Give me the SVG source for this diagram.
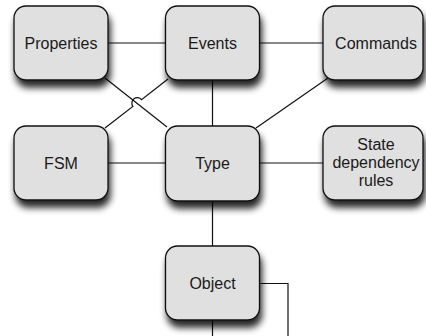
<svg xmlns="http://www.w3.org/2000/svg" width="426" height="336" viewBox="0 0 426 336">
  <defs>
    <filter id="shadow" x="-20%" y="-20%" width="150%" height="160%">
      <feGaussianBlur in="SourceAlpha" stdDeviation="3.5"/>
      <feOffset dx="2" dy="7" result="b"/>
      <feComponentTransfer><feFuncA type="linear" slope="0.85"/></feComponentTransfer>
      <feMerge><feMergeNode/><feMergeNode in="SourceGraphic"/></feMerge>
    </filter>
  </defs>
  <style>
    .box { fill: #e0e0e0; stroke: #111; stroke-width: 1.3; filter: url(#shadow); }
    .lbl { font-family: "Liberation Sans", Arial, sans-serif; font-size: 16px; fill: #1a1a1a; text-anchor: middle; }
    .conn { fill: none; stroke: #111; stroke-width: 1.2; }
  </style>
  <rect width="426" height="336" fill="#ffffff"/>

  <!-- connectors -->
  <g id="connectors" class="conn">
    <line x1="108" y1="43" x2="165" y2="43"/>
    <line x1="260" y1="43" x2="323" y2="43"/>
    <line x1="105" y1="78" x2="167" y2="127"/>
    <!-- FSM to Events, hopping over the Properties-Type line -->
    <path d="M105,128 L132.86,106.37 A5.5,5.5 0 0 1 141.54,99.63 L168,79"/>
    <line x1="212.5" y1="80" x2="212.5" y2="126"/>
    <line x1="256" y1="128" x2="328" y2="78"/>
    <line x1="108" y1="163" x2="165" y2="163"/>
    <line x1="260" y1="163" x2="323" y2="163"/>
    <line x1="212.5" y1="201" x2="212.5" y2="246"/>
    <path d="M260,283.5 L288,283.5 L288,340"/>
    <line x1="212.5" y1="320" x2="212.5" y2="340"/>
  </g>

  <g id="properties">
    <rect class="box" x="14" y="6" width="94" height="74" rx="12"/>
    <text class="lbl" x="61" y="49">Properties</text>
  </g>
  <g id="events">
    <rect class="box" x="165.5" y="6" width="94" height="74" rx="12"/>
    <text class="lbl" x="212.5" y="49">Events</text>
  </g>
  <g id="commands">
    <rect class="box" x="323" y="6" width="100" height="74" rx="12"/>
    <text class="lbl" x="376" y="49">Commands</text>
  </g>
  <g id="fsm">
    <rect class="box" x="14" y="126" width="94" height="74" rx="12"/>
    <text class="lbl" x="61" y="169">FSM</text>
  </g>
  <g id="type">
    <rect class="box" x="165.5" y="126" width="94" height="75" rx="12"/>
    <text class="lbl" x="212.5" y="169">Type</text>
  </g>
  <g id="state-dependency-rules">
    <rect class="box" x="323" y="126" width="100" height="74" rx="12"/>
    <text class="lbl" x="376" y="150">State</text>
    <text class="lbl" x="376" y="168">dependency</text>
    <text class="lbl" x="376" y="186">rules</text>
  </g>
  <g id="object">
    <rect class="box" x="165.5" y="246" width="94" height="74" rx="12"/>
    <text class="lbl" x="212.5" y="289">Object</text>
  </g>
</svg>
